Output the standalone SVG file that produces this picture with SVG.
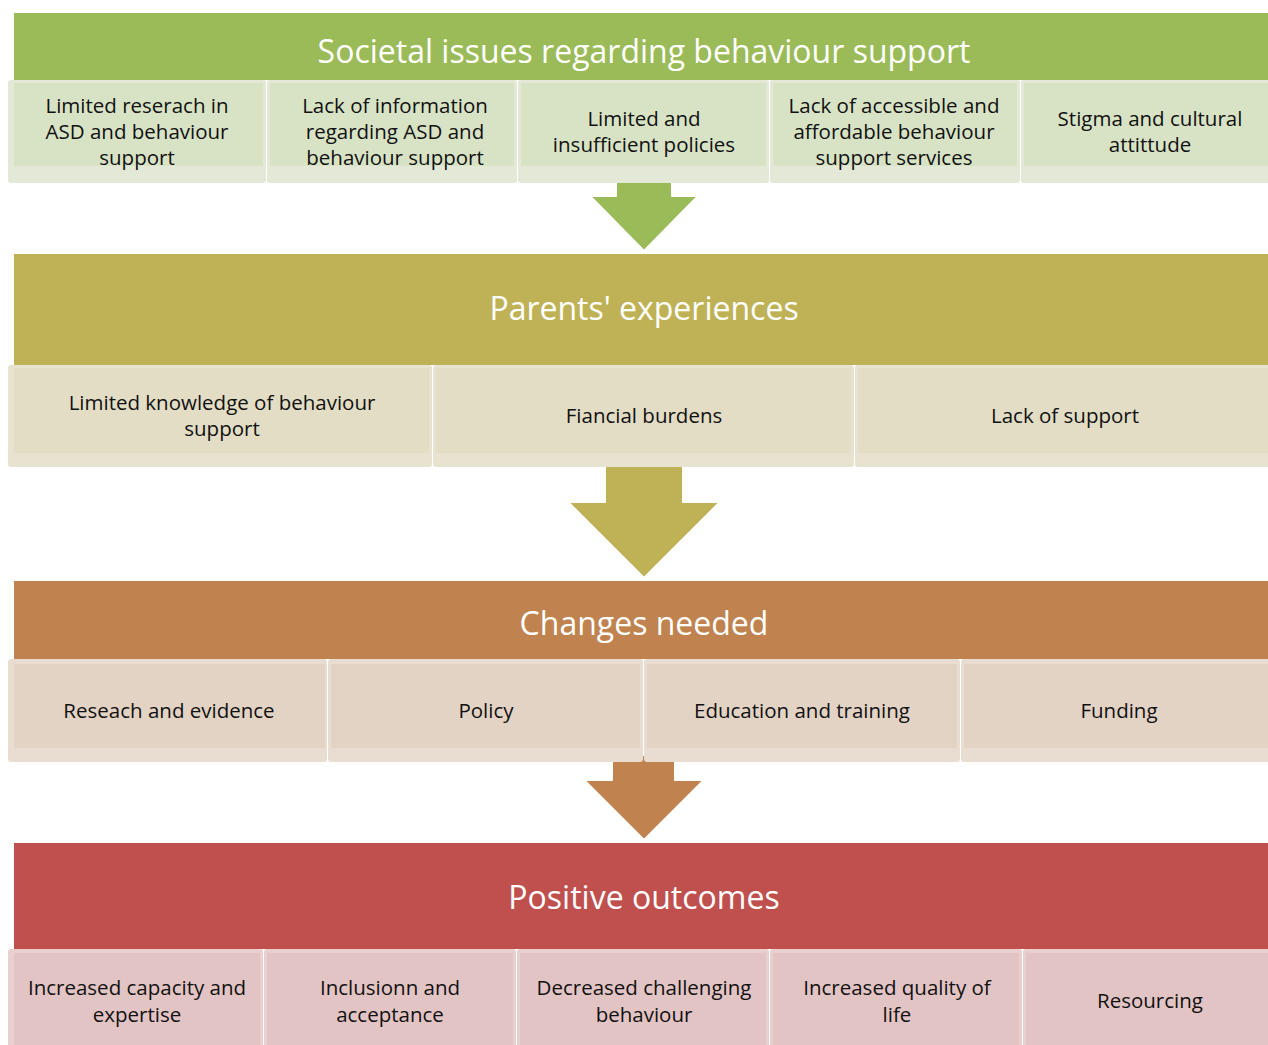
<svg xmlns="http://www.w3.org/2000/svg" width="1268" height="1045" viewBox="0 0 1268 1045">
<style>
.hd{font-family:"Open Sans","Liberation Sans",sans-serif;font-size:32px;fill:#fff;text-anchor:middle;dominant-baseline:central}
.tx{font-family:"Open Sans","Liberation Sans",sans-serif;font-size:20.5px;fill:#111;text-anchor:middle;dominant-baseline:central}
.g-o{fill:#e3e9d6}.g-i{fill:#d8e3c6}
.o-o{fill:#e7e3d0}.o-i{fill:#e2ddc4}
.b-o{fill:#e9ddd1}.b-i{fill:#e3d3c4}
.r-o{fill:#e9cfce}.r-i{fill:#e3c4c4}
.arr{stroke:#fff;stroke-width:2;stroke-linejoin:round}
</style>
<rect width="1268" height="1045" fill="#fff"/>
<g id="connectors">
<path class="arr" fill="#9bbb59" d="M616,175 H672 V196 H698 L644,251 L590,196 H616 Z"/>
<path class="arr" fill="#bfb256" d="M605,460 H683 V502 H720 L644,578 L568,502 H605 Z"/>
<path class="arr" fill="#c0834f" d="M612,755 H675 V780 H704 L644,840 L584,780 H612 Z"/>
</g>
<g id="band-societal"><rect x="14" y="13" width="1254" height="67" fill="#9bbb59"/><text class="hd" x="644" y="50">Societal issues regarding behaviour support</text></g>
<g id="band-parents"><rect x="14" y="254" width="1254" height="111" fill="#bfb256"/><text class="hd" x="644" y="307">Parents' experiences</text></g>
<g id="band-changes"><rect x="14" y="581" width="1254" height="78" fill="#c0834f"/><text class="hd" x="644" y="622">Changes needed</text></g>
<g id="band-outcomes"><rect x="14" y="843" width="1254" height="106" fill="#c0504d"/><text class="hd" x="644" y="896">Positive outcomes</text></g>

<g id="s1"><rect class="g-o" x="8" y="80" width="258" height="103" rx="3"/><rect class="g-i" x="14" y="83" width="249" height="83"/><text class="tx" x="137" y="105">Limited reserach in</text><text class="tx" x="137" y="131">ASD and behaviour</text><text class="tx" x="137" y="157">support</text></g>
<g id="s2"><rect class="g-o" x="267" y="80" width="250" height="103" rx="3"/><rect class="g-i" x="270" y="83" width="244" height="83"/><text class="tx" x="395" y="105">Lack of information</text><text class="tx" x="395" y="131">regarding ASD and</text><text class="tx" x="395" y="157">behaviour support</text></g>
<g id="s3"><rect class="g-o" x="518" y="80" width="251" height="103" rx="3"/><rect class="g-i" x="521" y="83" width="245" height="83"/><text class="tx" x="644" y="118">Limited and</text><text class="tx" x="644" y="144">insufficient policies</text></g>
<g id="s4"><rect class="g-o" x="770" y="80" width="250" height="103" rx="3"/><rect class="g-i" x="773" y="83" width="244" height="83"/><text class="tx" x="894" y="105">Lack of accessible and</text><text class="tx" x="894" y="131">affordable behaviour</text><text class="tx" x="894" y="157">support services</text></g>
<g id="s5"><rect class="g-o" x="1021" y="80" width="250" height="103" rx="3"/><rect class="g-i" x="1024" y="83" width="244" height="83"/><text class="tx" x="1150" y="118">Stigma and cultural</text><text class="tx" x="1150" y="144">attittude</text></g>

<g id="p1"><rect class="o-o" x="8" y="365" width="424" height="102" rx="3"/><rect class="o-i" x="14" y="368" width="415" height="85"/><text class="tx" x="222" y="402">Limited knowledge of behaviour</text><text class="tx" x="222" y="428">support</text></g>
<g id="p2"><rect class="o-o" x="433" y="365" width="421" height="102" rx="3"/><rect class="o-i" x="436" y="368" width="415" height="85"/><text class="tx" x="644" y="415">Fiancial burdens</text></g>
<g id="p3"><rect class="o-o" x="855" y="365" width="416" height="102" rx="3"/><rect class="o-i" x="858" y="368" width="410" height="85"/><text class="tx" x="1065" y="415">Lack of support</text></g>

<g id="c1"><rect class="b-o" x="8" y="659" width="319" height="103" rx="3"/><rect class="b-i" x="14" y="664" width="311" height="84"/><text class="tx" x="169" y="710">Reseach and evidence</text></g>
<g id="c2"><rect class="b-o" x="328" y="659" width="315" height="103" rx="3"/><rect class="b-i" x="331" y="664" width="309" height="84"/><text class="tx" x="486" y="710">Policy</text></g>
<g id="c3"><rect class="b-o" x="644" y="659" width="316" height="103" rx="3"/><rect class="b-i" x="647" y="664" width="310" height="84"/><text class="tx" x="802" y="710">Education and training</text></g>
<g id="c4"><rect class="b-o" x="961" y="659" width="310" height="103" rx="3"/><rect class="b-i" x="964" y="664" width="304" height="84"/><text class="tx" x="1119" y="710">Funding</text></g>

<g id="o1"><rect class="r-o" x="8" y="949" width="255" height="110" rx="3"/><rect class="r-i" x="14" y="953" width="246" height="100"/><text class="tx" x="137" y="987">Increased capacity and</text><text class="tx" x="137" y="1014">expertise</text></g>
<g id="o2"><rect class="r-o" x="264" y="949" width="252" height="110" rx="3"/><rect class="r-i" x="267" y="953" width="246" height="100"/><text class="tx" x="390" y="987">Inclusionn and</text><text class="tx" x="390" y="1014">acceptance</text></g>
<g id="o3"><rect class="r-o" x="517" y="949" width="252" height="110" rx="3"/><rect class="r-i" x="520" y="953" width="246" height="100"/><text class="tx" x="644" y="987">Decreased challenging</text><text class="tx" x="644" y="1014">behaviour</text></g>
<g id="o4"><rect class="r-o" x="770" y="949" width="252" height="110" rx="3"/><rect class="r-i" x="773" y="953" width="246" height="100"/><text class="tx" x="897" y="987">Increased quality of</text><text class="tx" x="897" y="1014">life</text></g>
<g id="o5"><rect class="r-o" x="1023" y="949" width="252" height="110" rx="3"/><rect class="r-i" x="1026" y="953" width="246" height="100"/><text class="tx" x="1150" y="1000">Resourcing</text></g>
</svg>
